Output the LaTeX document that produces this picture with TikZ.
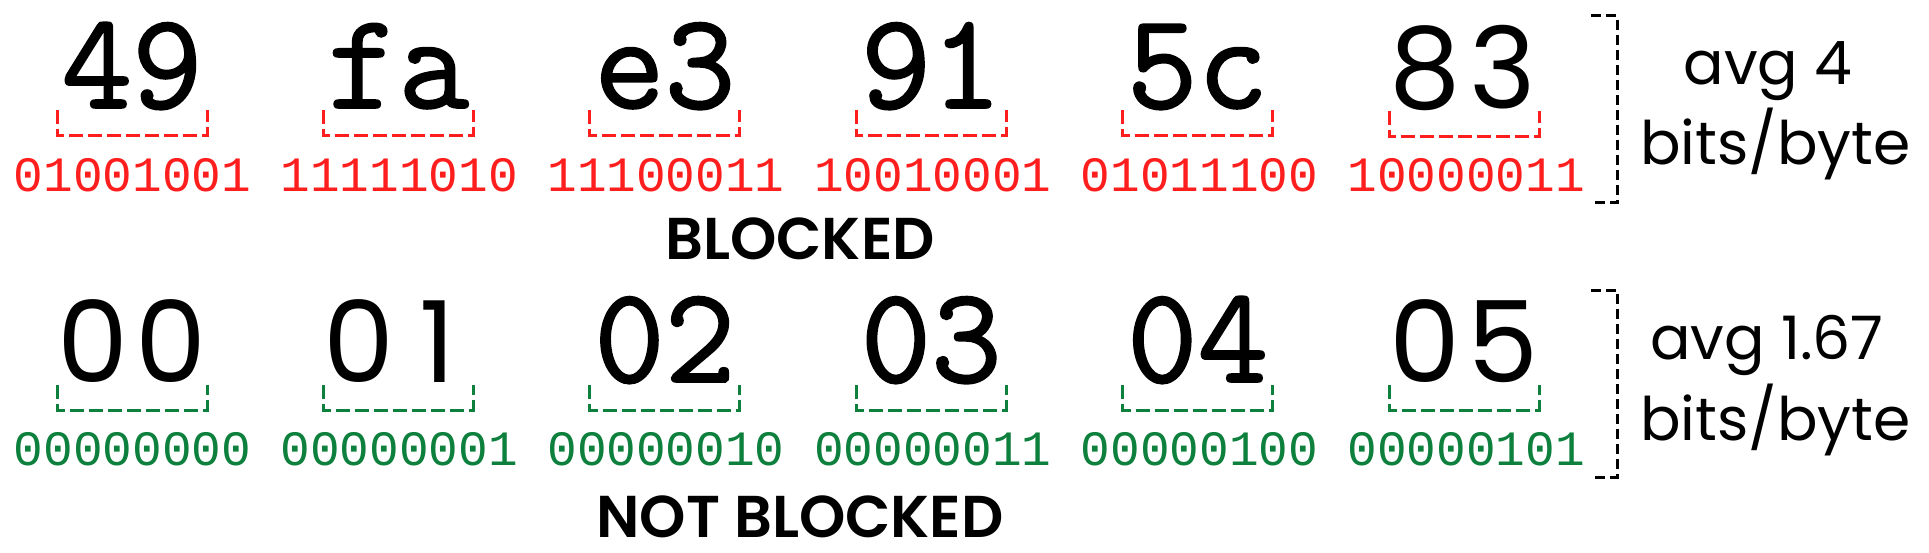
\documentclass[tikz,border=0pt]{standalone}
\usepackage{fontspec}
\usetikzlibrary{calc}
\newfontfamily\pop{Poppins}
\newfontfamily\popsb{Poppins SemiBold}
\newfontfamily\hexserif[FakeBold=1.4]{Latin Modern Mono}
\newfontfamily\binfont{Liberation Mono}
\definecolor{bred}{RGB}{255,30,30}
\definecolor{bgreen}{RGB}{12,128,60}
\newcommand{\sdig}[1]{\makebox[0.69em][c]{#1}}
\tikzset{
  hexm/.style={anchor=base, inner sep=0pt, font=\hexserif\fontsize{137}{137}\selectfont},
  hexs/.style={anchor=base, inner sep=0pt, font=\pop\fontsize{113}{113}\selectfont},
  bits/.style={anchor=base, inner sep=0pt, font=\binfont\fontsize{49.4}{49.4}\selectfont},
  lbl/.style={anchor=base, inner sep=0pt, font=\pop\fontsize{60}{60}\selectfont},
  status/.style={anchor=base, inner sep=0pt, font=\popsb\fontsize{59}{59}\selectfont},
  brk/.style={line width=3pt, dash pattern=on 14pt off 5pt},
  side/.style={black, line width=3pt, dash pattern=on 10pt off 5pt},
}
\begin{document}
\begin{tikzpicture}[x=1pt,y=-1pt]
\useasboundingbox (0,0) rectangle (1929,553);
\fill[white] (0,0) rectangle (1929,553);
% top row
\node[hexm] (h1) at (132,108) {49};
\node[hexm] (h2) at (398.4,108) {fa};
\node[hexm] (h3) at (664.8,108) {e3};
\node[hexm] (h4) at (931.2,108) {91};
\node[hexm] (h5) at (1197.6,108) {5c};
\node[hexs] (h6) at (1464,109) {\sdig{8}\sdig{3}};
\node[bits, bred] (b1) at (799.5,192) {01001001 11111010 11100011 10010001 01011100 10000011};
\node[status] (s1) at (800,260) {BLOCKED};
% bottom row
\node[hexs] (g1) at (132,382) {\sdig{0}\sdig{0}};
\node[hexs] (g2) at (398.4,382) {\sdig{0}\sdig{1}};
\node[hexm] (g3) at (664.8,382) {02};
\node[hexm] (g4) at (931.2,382) {03};
\node[hexm] (g5) at (1197.6,382) {04};
\node[hexs] (g6) at (1464,382) {\sdig{0}\sdig{5}};
\node[bits, bgreen] (c1) at (799.5,465) {00000000 00000001 00000010 00000011 00000100 00000101};
\node[status] (s2) at (800,537) {NOT BLOCKED};
% brackets
\foreach \n in {h1,h2,h3,h4,h5,h6}{
  \draw[brk, bred] ($(\n.base)+(-75,2)$) -- ($(\n.base)+(-75,28)$) -- ($(\n.base)+(75,28)$) -- ($(\n.base)+(75,2)$);
}
\foreach \n in {g1,g2,g3,g4,g5,g6}{
  \draw[brk, bgreen] ($(\n.base)+(-75,3)$) -- ($(\n.base)+(-75,28)$) -- ($(\n.base)+(75,28)$) -- ($(\n.base)+(75,3)$);
}
% side brackets
\coordinate (t1) at (1591,16);
\coordinate (t2) at (1591,203);
\coordinate (u1) at (1591,290);
\coordinate (u2) at (1591,477);
\draw[side] (t1) -- ++(26,0) |- (t2);
\draw[side] (u1) -- ++(26,0) |- (u2);
\node[lbl] (a1) at (1768,85) {avg 4};
\node[lbl] (a2) at (1775.5,165) {bits/byte};
\node[lbl] (a3) at (1767,359) {avg 1.67};
\node[lbl] (a4) at (1775.5,440) {bits/byte};
\end{tikzpicture}
\end{document}
